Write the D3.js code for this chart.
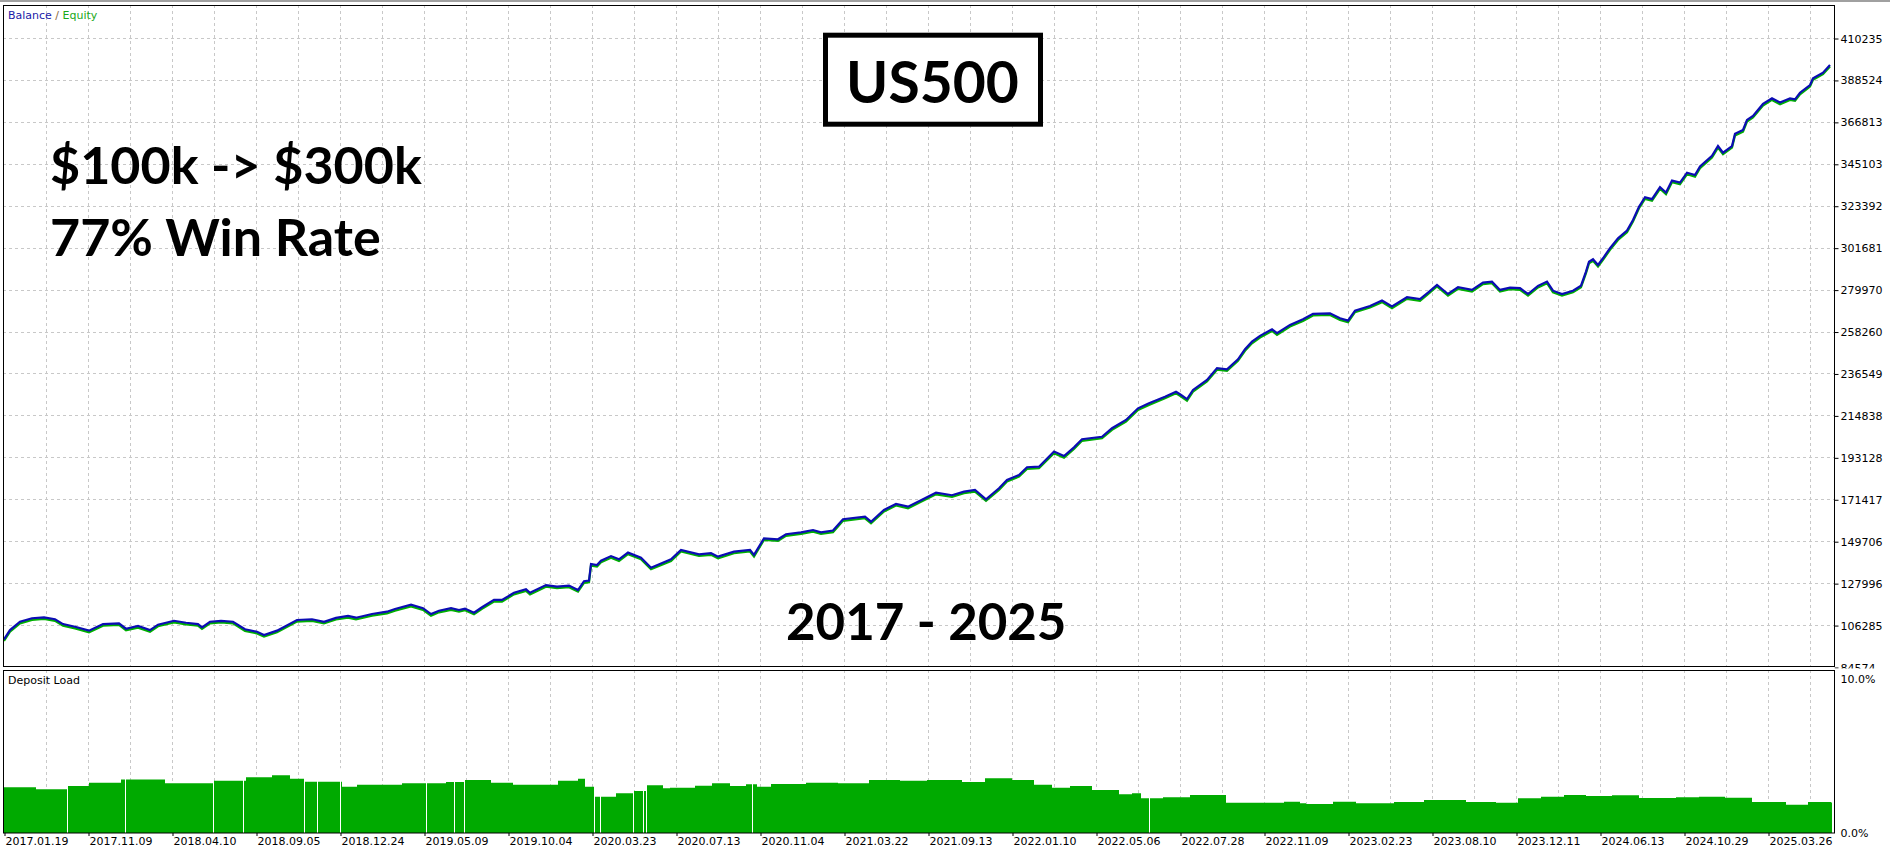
<!DOCTYPE html>
<html><head><meta charset="utf-8">
<script src="https://cdn.jsdelivr.net/npm/d3@7"></script>
<style>body{margin:0;background:#fff;overflow:hidden}svg{display:block}</style>
</head><body><svg id="c" width="1890" height="851"></svg>
<script>
// ---------- DATA ----------
const yTickValues = [84574,106285,127996,149706,171417,193128,214838,236549,258260,279970,301681,323392,345103,366813,388524,410235];
const dateLabels = ["2017.01.19","2017.11.09","2018.04.10","2018.09.05","2018.12.24","2019.05.09","2019.10.04","2020.03.23","2020.07.13","2020.11.04","2021.03.22","2021.09.13","2022.01.10","2022.05.06","2022.07.28","2022.11.09","2023.02.23","2023.08.10","2023.12.11","2024.06.13","2024.10.29","2025.03.26"];
const depositTicks = [0,10];
const totalTrades = 1828;

const balanceTrade = [0,6,16,28,40,51,59,71,85,99,115,122,134,146,154,170,182,194,198,206,217,229,241,253,260,273,293,308,320,332,344,352,368,383,391,407,419,427,435,447,455,461,470,478,490,498,510,522,526,542,553,565,574,580,585,587,593,597,607,615,624,637,647,667,677,695,707,714,730,746,750,760,774,782,797,809,817,829,839,861,867,880,892,904,916,932,948,960,971,982,995,1003,1015,1023,1035,1050,1060,1070,1078,1098,1108,1122,1134,1145,1161,1172,1176,1183,1189,1203,1213,1223,1234,1241,1248,1256,1268,1273,1286,1299,1309,1326,1336,1344,1351,1366,1378,1388,1403,1416,1424,1433,1444,1454,1468,1479,1488,1496,1506,1516,1524,1534,1543,1549,1558,1569,1577,1582,1585,1589,1594,1599,1606,1614,1623,1629,1635,1641,1648,1656,1662,1668,1676,1683,1691,1696,1708,1714,1719,1728,1731,1739,1743,1749,1759,1768,1776,1786,1791,1796,1806,1809,1819,1826];
const balanceValue = [98900,103700,108000,109800,110300,109300,106800,105400,103400,106800,107200,104400,105800,103700,106500,108500,107500,106800,105100,108000,108500,108000,104100,102800,101100,103400,108900,109300,108000,110000,111000,110100,112000,113200,114600,116800,115000,112000,113700,115000,114100,114800,112700,115500,119300,119300,123000,124800,123000,127000,126200,126700,124400,129000,129300,137900,137400,139600,142000,140300,143800,141200,136000,140300,145200,142900,143500,141700,144300,145200,142600,151200,150700,153300,154300,155500,154300,155200,161100,162400,159800,165900,169000,167600,170700,174800,173500,175400,176200,171400,177100,181400,184000,188000,188300,196100,193800,198300,202500,203800,208200,212500,218500,221100,224500,227100,225800,223300,228000,233200,239300,238700,243900,249100,253000,256000,259400,257400,261700,264600,267400,267700,265100,263900,269100,271500,274300,271200,276000,275000,278400,282400,277700,281200,279800,283600,284100,279800,281000,280700,277700,281900,284100,279400,277700,279400,282000,289300,294400,295700,292700,296200,301400,306500,310500,316000,322900,327800,326800,333000,330200,336400,335400,340500,339300,343700,349200,354300,350900,354300,360600,362600,367800,369900,376100,379000,376800,379000,378500,381900,385900,389400,392300,396300];

const loadTrade = [0,32,63,85,117,143,161,210,242,268,286,300,322,338,353,398,442,460,487,509,554,574,581,590,612,630,643,659,666,691,708,726,742,753,767,802,834,865,896,923,958,981,1008,1030,1048,1066,1088,1115,1128,1137,1159,1186,1222,1262,1280,1296,1302,1329,1352,1390,1420,1462,1492,1514,1537,1560,1582,1608,1635,1672,1695,1721,1748,1782,1804,1827];
const loadValue = [2.82,2.70,2.90,3.10,3.31,3.31,3.07,3.23,3.44,3.56,3.35,3.17,3.17,2.86,2.98,3.07,3.15,3.27,3.10,2.98,3.23,3.35,2.86,2.24,2.45,2.59,2.94,2.76,2.80,2.91,3.07,2.90,3.01,2.86,3.02,3.10,3.07,3.27,3.23,3.27,3.15,3.38,3.27,2.98,2.80,2.90,2.65,2.39,2.45,2.14,2.20,2.35,1.87,1.87,1.93,1.83,1.79,1.93,1.83,1.91,2.04,1.91,1.87,2.14,2.24,2.35,2.28,2.33,2.16,2.20,2.24,2.18,1.91,1.75,1.91,1.89];
const loadGapTrade = [63,121,209,239,300,313,336,422,450,460,590,596,629,639,642,748,1145];

// ---------- LAYOUT ----------
const svg = d3.select('#c');
const L = 3, R = 1834, mainTop = 5, mainBot = 667, depTop = 670, depBot = 833;
const x = d3.scaleLinear().domain([0, totalTrades]).range([4, 1832]);
const y = d3.scaleLinear().domain([yTickValues[0], yTickValues[yTickValues.length-1]]).range([667, 38]);
const yd = d3.scaleLinear().domain([0, 10]).range([833, 671]);
const gridColor = '#c8c8c8';
const axisFont = '"DejaVu Sans", Verdana, sans-serif';

svg.append('rect').attr('width',1890).attr('height',851).attr('fill','#fff');
svg.append('rect').attr('x',0).attr('y',0).attr('width',1890).attr('height',2).attr('fill','#a0a0a0');

// vertical grid lines (every half label step)
const gridTrades = d3.range(42, totalTrades, 42);
[[mainTop, mainBot],[depTop, depBot]].forEach(([t,b]) => {
  svg.append('g').selectAll('line').data(gridTrades).join('line')
    .attr('x1', d => Math.round(x(d))+0.5).attr('x2', d => Math.round(x(d))+0.5)
    .attr('y1', t).attr('y2', b)
    .attr('stroke', gridColor).attr('stroke-dasharray','3,3');
});
// horizontal grid lines main panel
svg.append('g').selectAll('line').data(yTickValues.slice(1)).join('line')
  .attr('x1', L).attr('x2', R)
  .attr('y1', d => Math.round(y(d))+0.5).attr('y2', d => Math.round(y(d))+0.5)
  .attr('stroke', gridColor).attr('stroke-dasharray','3,3');

// deposit load area
const loadData = loadTrade.map((t,i)=>({t, v: loadValue[i]}));
loadData.push({t: totalTrades, v: loadValue[loadValue.length-1]});
svg.append('path').datum(loadData)
  .attr('d', d3.area().x(d=>x(d.t)).y0(yd(0)).y1(d=>yd(d.v)).curve(d3.curveStepAfter))
  .attr('fill', '#00aa00');
svg.append('g').selectAll('line').data(loadGapTrade).join('line')
  .attr('x1', d=>Math.round(x(d))+0.5).attr('x2', d=>Math.round(x(d))+0.5)
  .attr('y1', yd(4)).attr('y2', yd(0))
  .attr('stroke', '#fff').attr('stroke-width', 1);

// balance / equity lines
const bal = balanceTrade.map((t,i)=>({t, v: balanceValue[i]}));
const line = d3.line().x(d=>x(d.t)).y(d=>y(d.v));
svg.append('path').datum(bal).attr('d', line)
  .attr('transform','translate(0,1.6)')
  .attr('fill','none').attr('stroke','#00b000').attr('stroke-width',2.2);
svg.append('path').datum(bal).attr('d', line)
  .attr('fill','none').attr('stroke','#0c0cb4').attr('stroke-width',2.2).attr('stroke-linejoin','miter');

// panel borders
svg.append('rect').attr('x',L+0.5).attr('y',mainTop+0.5).attr('width',R-L).attr('height',mainBot-mainTop-1)
  .attr('fill','none').attr('stroke','#000');
svg.append('rect').attr('x',L+0.5).attr('y',depTop+0.5).attr('width',R-L).attr('height',depBot-depTop-0.5)
  .attr('fill','none').attr('stroke','#000');

// right axis (main) - clipped so the lowest label is cut by the lower panel
svg.append('clipPath').attr('id','mclip').append('rect').attr('x',0).attr('y',-1).attr('width',60).attr('height',669);
const ya = svg.append('g').attr('transform',`translate(${R+0.5},0.5)`).attr('clip-path','url(#mclip)')
  .call(d3.axisRight(y).tickValues(yTickValues).tickSize(4).tickPadding(2).tickFormat(d3.format('d')));
ya.select('.domain').remove();
ya.selectAll('text').attr('font-family', axisFont).attr('font-size', 11).attr('fill','#000');
ya.selectAll('line').attr('stroke','#000');

// right axis (deposit)
const yda = svg.append('g').attr('transform',`translate(${R+0.5},0)`)
  .call(d3.axisRight(yd).tickValues(depositTicks).tickSize(0).tickPadding(6).tickFormat(d => d.toFixed(1)+'%'));
yda.select('.domain').remove();
yda.selectAll('text').attr('font-family', axisFont).attr('font-size', 11).attr('fill','#000')
  .attr('dy', d => d === 10 ? '1.05em' : '0.32em');

// bottom axis
const labelTrades = dateLabels.map((_, i) => i * 84);
const xa = svg.append('g').attr('transform',`translate(0.5,${depBot})`)
  .call(d3.axisBottom(x).tickValues(labelTrades).tickSize(3).tickPadding(2).tickFormat((d,i)=>dateLabels[i]));
xa.select('.domain').remove();
xa.selectAll('line').attr('stroke','#000');
xa.selectAll('text').attr('font-family', axisFont).attr('font-size', 11).attr('fill','#000')
  .attr('text-anchor','start').attr('dx', 0.5).attr('dy','0.62em');

// panel captions
const leg = svg.append('text').attr('x', 8).attr('y', 19).attr('font-family', axisFont).attr('font-size', 11);
leg.append('tspan').attr('fill','#1a1aa8').text('Balance');
leg.append('tspan').attr('fill','#8a6a40').text(' / ');
leg.append('tspan').attr('fill','#1aa81a').text('Equity');
svg.append('text').attr('x', 8).attr('y', 684).attr('font-family', axisFont).attr('font-size', 11).attr('fill','#000').text('Deposit Load');

// overlay annotations
const bigFont = 'Lato, "Open Sans", sans-serif';
svg.append('rect').attr('x',825.5).attr('y',35.2).attr('width',215).attr('height',89)
  .attr('fill','#fff').attr('stroke','#000').attr('stroke-width',5);
svg.append('text').attr('x',932.5).attr('y',102.5).attr('text-anchor','middle')
  .attr('font-family',bigFont).attr('font-weight',700).attr('font-size',57).attr('fill','#000').text('US500');
svg.append('text').attr('x',50).attr('y',184).attr('font-family',bigFont).attr('font-weight',700).attr('font-size',52).attr('fill','#000').text('$100k -> $300k');
svg.append('text').attr('x',50).attr('y',256).attr('font-family',bigFont).attr('font-weight',700).attr('font-size',52).attr('fill','#000').text('77% Win Rate');
svg.append('text').attr('x',786).attr('y',640).attr('font-family',bigFont).attr('font-weight',700).attr('font-size',51).attr('fill','#000').text('2017 - 2025');
</script></body></html>
